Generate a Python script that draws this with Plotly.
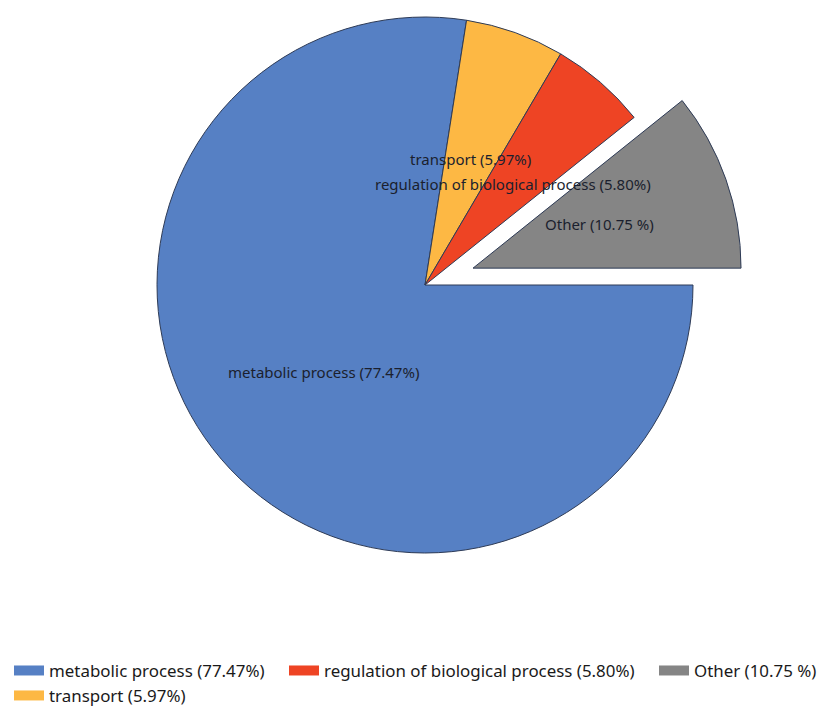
import math
import plotly.graph_objects as go

# Biological-process breakdown (percent of annotated genes)
categories = ["metabolic process", "transport", "regulation of biological process", "Other"]
percent = [77.47, 5.97, 5.80, 10.75]
slice_labels = [
    "metabolic process (77.47%)",
    "transport (5.97%)",
    "regulation of biological process (5.80%)",
    "Other (10.75 %)",
]
# legend column for each category (column-major legend layout)
legend_column = ["legend", "legend", "legend2", "legend3"]
exploded = "Other"

colors = ["#5680C4", "#FDB844", "#EE4424", "#858585"]
edge = "#2E3B56"
clear = "rgba(0,0,0,0)"

W, H = 823, 709
LEGEND_TOP = 653       # px from top of figure; space below is reserved for the legend
PH = LEGEND_TOP        # resulting plot-area height
CX, CY = 425, 285      # pie centre in px
R = 268                # pie radius in px
PULL = 0.19            # explode offset as fraction of radius
LABEL_R = 0.5          # label distance as fraction of radius
FONT = "Noto Sans"


def px_to_paper(px, py):
    return px / W, 1 - py / PH


def domain_for(cx, cy, r):
    x0, y0 = px_to_paper(cx - r, cy + r)
    x1, y1 = px_to_paper(cx + r, cy - r)
    return dict(x=[x0, x1], y=[y0, y1])


total = sum(percent)
# mid angle of each slice (degrees, counter-clockwise from east); slices run clockwise from 3 o'clock
mids = []
cum = 0.0
for v in percent:
    mids.append(-(cum + v / 2) / total * 360.0)
    cum += v

ex = categories.index(exploded)
off = PULL * R
ecx = CX + off * math.cos(math.radians(mids[ex]))
ecy = CY - off * math.sin(math.radians(mids[ex]))

fig = go.Figure()

common = dict(
    labels=categories,
    values=percent,
    sort=False,
    direction="clockwise",
    rotation=90,
    textinfo="none",
    showlegend=False,
    hovertext=slice_labels,
    hoverinfo="text",
)

# body of the pie (exploded slice left transparent)
fig.add_trace(go.Pie(
    domain=domain_for(CX, CY, R),
    marker=dict(
        colors=[clear if c == exploded else col for c, col in zip(categories, colors)],
        line=dict(color=[clear if c == exploded else edge for c in categories], width=1),
    ),
    **common,
))

# exploded slice, drawn on its own shifted centre
fig.add_trace(go.Pie(
    domain=domain_for(ecx, ecy, R),
    marker=dict(
        colors=[col if c == exploded else clear for c, col in zip(categories, colors)],
        line=dict(color=[edge if c == exploded else clear for c in categories], width=1),
    ),
    **common,
))

# slice labels at mid-angle
for i, c in enumerate(categories):
    cx, cy = (ecx, ecy) if c == exploded else (CX, CY)
    a = math.radians(mids[i])
    ax, ay = px_to_paper(cx + LABEL_R * R * math.cos(a), cy - LABEL_R * R * math.sin(a))
    fig.add_annotation(
        x=ax, y=ay, xref="paper", yref="paper",
        xanchor="center", yanchor="middle",
        text=slice_labels[i], showarrow=False,
        font=dict(family=FONT, size=15, color="#1b1f2e"),
    )

# legend entries
for i in range(len(categories)):
    fig.add_trace(go.Scatter(
        x=[None], y=[None], mode="lines",
        line=dict(color=colors[i], width=15),
        name=slice_labels[i],
        legend=legend_column[i],
        hoverinfo="skip",
    ))

legend_common = dict(
    orientation="v", xanchor="left", yanchor="top",
    xref="paper", yref="container", y=1 - LEGEND_TOP / H,
    font=dict(family=FONT, size=16.9, color="#1a1a1a"),
    itemwidth=30, tracegroupgap=0,
    bgcolor="rgba(0,0,0,0)",
)

fig.update_layout(
    width=W, height=H,
    margin=dict(l=0, r=0, t=0, b=0),
    paper_bgcolor="white", plot_bgcolor="white",
    xaxis=dict(visible=False), yaxis=dict(visible=False),
    legend=dict(x=9 / W, **legend_common),
    legend2=dict(x=284 / W, **legend_common),
    legend3=dict(x=654 / W, **legend_common),
)

fig.write_html("out.html")
